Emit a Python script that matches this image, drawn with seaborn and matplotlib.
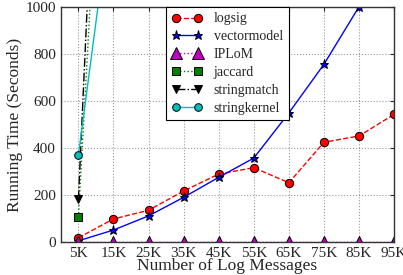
import matplotlib
matplotlib.use('Agg')
import matplotlib.pyplot as plt
import seaborn as sns

messages = [5, 15, 25, 35, 45, 55, 65, 75, 85, 95]
tick_labels = ['5K', '15K', '25K', '35K', '45K', '55K', '65K', '75K', '85K', '95K']

logsig = [18, 98, 135, 217, 289, 316, 252, 424, 451, 543]
vectormodel = [5, 51, 111, 190, 275, 357, 549, 756, 1001, 1300]
iplom = [2, 2, 2, 2, 2, 2, 2, 2, 2, 2]
# the slow methods only have a first point inside the plotted range
slow_messages = [5, 15]
jaccard = [106, 2800]
stringmatch = [182, 3450]
stringkernel = [369, 1500]


def make_chart(out_path):
    sns.set_style('white')
    plt.rcParams['font.family'] = ['Liberation Serif', 'DejaVu Serif']
    plt.rcParams['xtick.direction'] = 'in'
    plt.rcParams['ytick.direction'] = 'in'

    fig = plt.figure(figsize=(4.03, 2.75), dpi=100)
    ax = fig.add_axes([0.151, 0.12, 0.827, 0.855])

    series = [
        (messages, logsig, 'logsig', dict(color='red', linestyle='--', marker='o', markersize=6)),
        (messages, vectormodel, 'vectormodel', dict(color='blue', linestyle='-', marker='*', markersize=6.5)),
        (messages, iplom, 'IPLoM', dict(color='m', linestyle=':', marker='^', markersize=9)),
        (slow_messages, jaccard, 'jaccard', dict(color='green', linestyle=':', marker='s', markersize=5.5)),
        (slow_messages, stringmatch, 'stringmatch', dict(color='black', linestyle='-.', marker='v', markersize=6)),
        (slow_messages, stringkernel, 'stringkernel', dict(color='c', linestyle='-', marker='o', markersize=5.5)),
    ]
    for xs, ys, name, style in series:
        sns.lineplot(x=xs, y=ys, ax=ax, label=name, linewidth=1.0,
                     markeredgecolor='black', markeredgewidth=0.7, **style)

    ax.set_xlim(0, 95)
    ax.set_ylim(0, 1000)
    ax.set_xticks(messages)
    ax.set_xticklabels(tick_labels)
    ax.set_yticks([0, 200, 400, 600, 800, 1000])
    ax.tick_params(labelsize=11, top=True, right=True, length=3, width=0.8)
    ax.grid(True, linestyle=':', color='#999999', linewidth=0.8)
    for sp in ax.spines.values():
        sp.set_color('#333333')
        sp.set_linewidth(1.0)

    ax.set_xlabel('Number of Log Messages', fontsize=12.5, labelpad=-1)
    ax.set_ylabel('Running Time (Seconds)', fontsize=12.5, labelpad=2)

    leg = ax.legend(loc='upper center', borderaxespad=0, fontsize=10, numpoints=2,
                    handlelength=2.2, fancybox=False, framealpha=1,
                    edgecolor='black', labelspacing=0.35)
    leg.get_frame().set_linewidth(0.8)

    fig.savefig(out_path, dpi=100)
    plt.close(fig)


if __name__ == '__main__':
    make_chart('out.png')
